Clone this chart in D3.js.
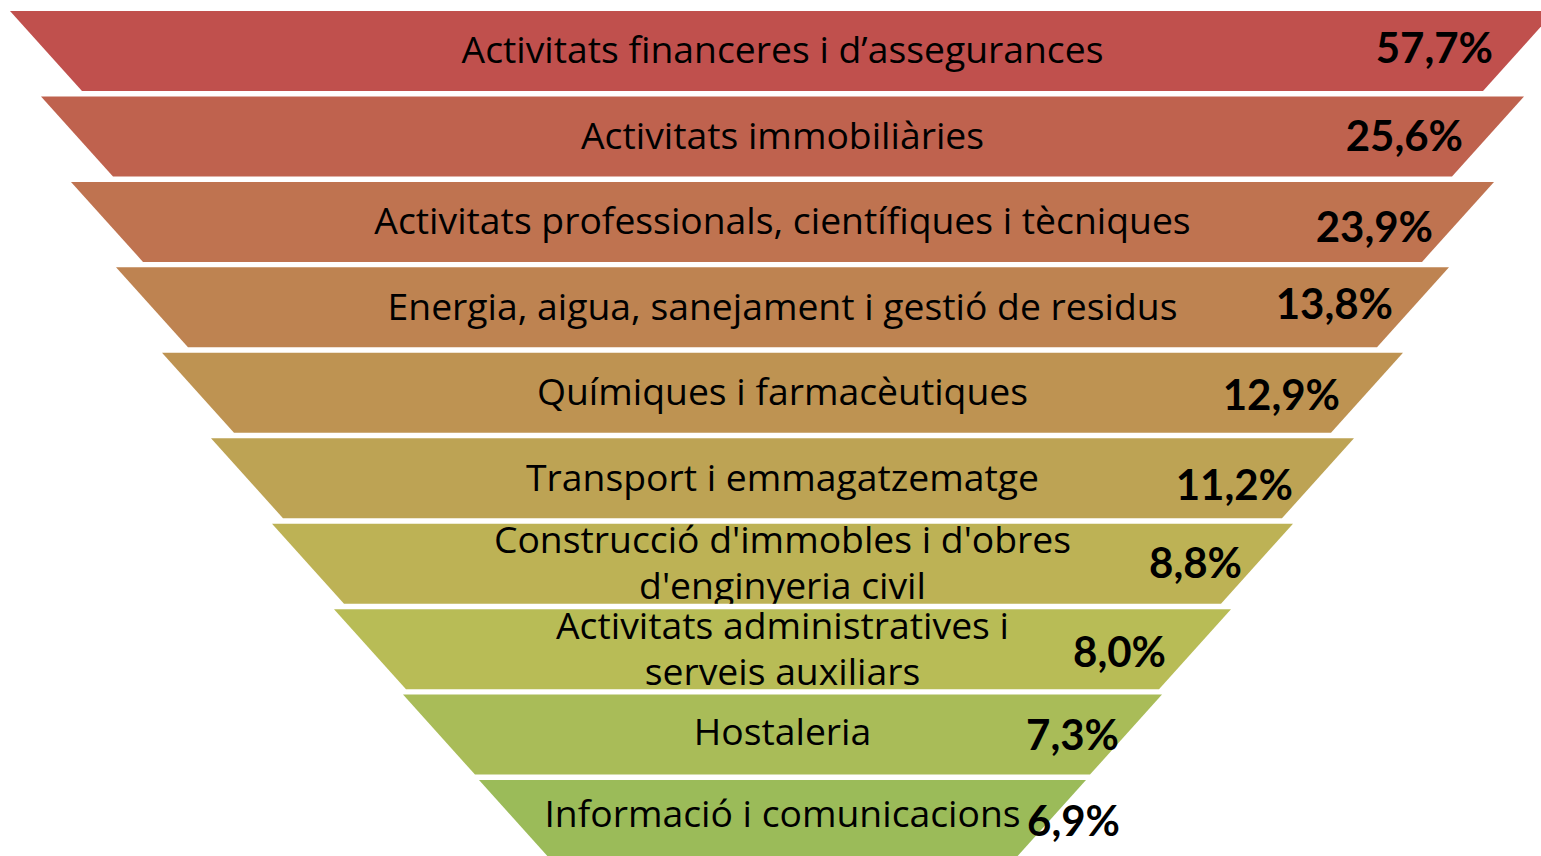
<!DOCTYPE html>
<html>
<head>
<meta charset="utf-8">
<script src="https://cdn.jsdelivr.net/npm/d3@7"></script>
<style>
  html, body { margin: 0; padding: 0; background: #ffffff; overflow: hidden; }
  svg { display: block; }
</style>
</head>
<body>
<svg id="chart" width="1541" height="856"></svg>
<script>
// ---------------- data ----------------
const categories = [
  "Activitats financeres i d\u2019assegurances",
  "Activitats immobiliàries",
  "Activitats professionals, científiques i tècniques",
  "Energia, aigua, sanejament i gestió de residus",
  "Químiques i farmacèutiques",
  "Transport i emmagatzematge",
  "Construcció d'immobles i d'obres\nd'enginyeria civil",
  "Activitats administratives i\nserveis auxiliars",
  "Hostaleria",
  "Informació i comunicacions"
];
const values = [57.7, 25.6, 23.9, 13.8, 12.9, 11.2, 8.8, 8.0, 7.3, 6.9];
const valueLabels = ["57,7%", "25,6%", "23,9%", "13,8%", "12,9%", "11,2%", "8,8%", "8,0%", "7,3%", "6,9%"];

// ---------------- layout (shape geometry of the funnel, not data) ----------------
const W = 1541, H = 856;
const centerX = 782.5;
const topHalfWidth = [772.5, 741.5, 711.5, 666.5, 620.5, 571.5, 510.5, 448.5, 379.5, 303.5];
const valueShiftX = [10, 11, 11, 16, 9, 11, 21, 7, 29, 106];
const valueShiftY = [-3, 0, 5, -3, 2, 7, -1, 3, 0, 1];
const labelShiftY = [-1, 0, -1, 0, -1, 0, -1, 0, -3, -6];
const slope = 0.9; // horizontal inset per vertical pixel

const colorFrom = "#C0504D", colorTo = "#9BBB59";

const svg = d3.select("#chart");

const y = d3.scaleBand()
  .domain(categories)
  .range([11, 860.05])
  .paddingInner(0.0638)
  .paddingOuter(0);

const color = d3.scaleLinear()
  .domain([0, categories.length - 1])
  .range([colorFrom, colorTo])
  .interpolate(d3.interpolateHsl);

const rows = categories.map((c, i) => ({ cat: c, value: values[i], label: valueLabels[i], i }));

const defs = svg.append("defs");
defs.selectAll("clipPath")
  .data(rows)
  .join("clipPath")
  .attr("id", d => "clip" + d.i)
  .append("rect")
  .attr("x", 0)
  .attr("y", d => y(d.cat))
  .attr("width", W)
  .attr("height", y.bandwidth());

const g = svg.selectAll("g.level")
  .data(rows)
  .join("g")
  .attr("class", "level");

g.append("path")
  .attr("d", d => {
    const t = y(d.cat), b = t + y.bandwidth();
    const hw = topHalfWidth[d.i];
    const inset = y.bandwidth() * slope;
    return d3.line()([
      [centerX - hw, t],
      [centerX + hw, t],
      [centerX + hw - inset, b],
      [centerX - hw + inset, b]
    ]) + "Z";
  })
  .attr("fill", d => color(d.i));

const fontLabel = "'Open Sans', 'Noto Sans', sans-serif";
const fontValue = "Lato, 'Noto Sans', sans-serif";

g.append("text")
  .attr("clip-path", d => `url(#clip${d.i})`)
  .attr("text-anchor", "middle")
  .attr("font-family", fontLabel)
  .attr("font-size", 37.3)
  .attr("fill", "#000")
  .each(function(d) {
    const lines = d.cat.split("\n");
    const cy = y(d.cat) + y.bandwidth() / 2 + labelShiftY[d.i];
    const lh = 46;
    const first = cy - (lines.length - 1) * lh / 2 + 13;
    d3.select(this).selectAll("tspan")
      .data(lines)
      .join("tspan")
      .attr("x", centerX)
      .attr("y", (l, k) => first + k * lh)
      .text(l => l);
  });

g.append("text")
  .attr("text-anchor", "end")
  .attr("font-family", fontValue)
  .attr("font-weight", "bold")
  .attr("font-size", 42)
  .attr("fill", "#000")
  .attr("x", d => centerX + topHalfWidth[d.i] - y.bandwidth() * slope + valueShiftX[d.i])
  .attr("y", d => y(d.cat) + y.bandwidth() / 2 + valueShiftY[d.i] + 15)
  .text(d => d.label);
</script>
</body>
</html>
